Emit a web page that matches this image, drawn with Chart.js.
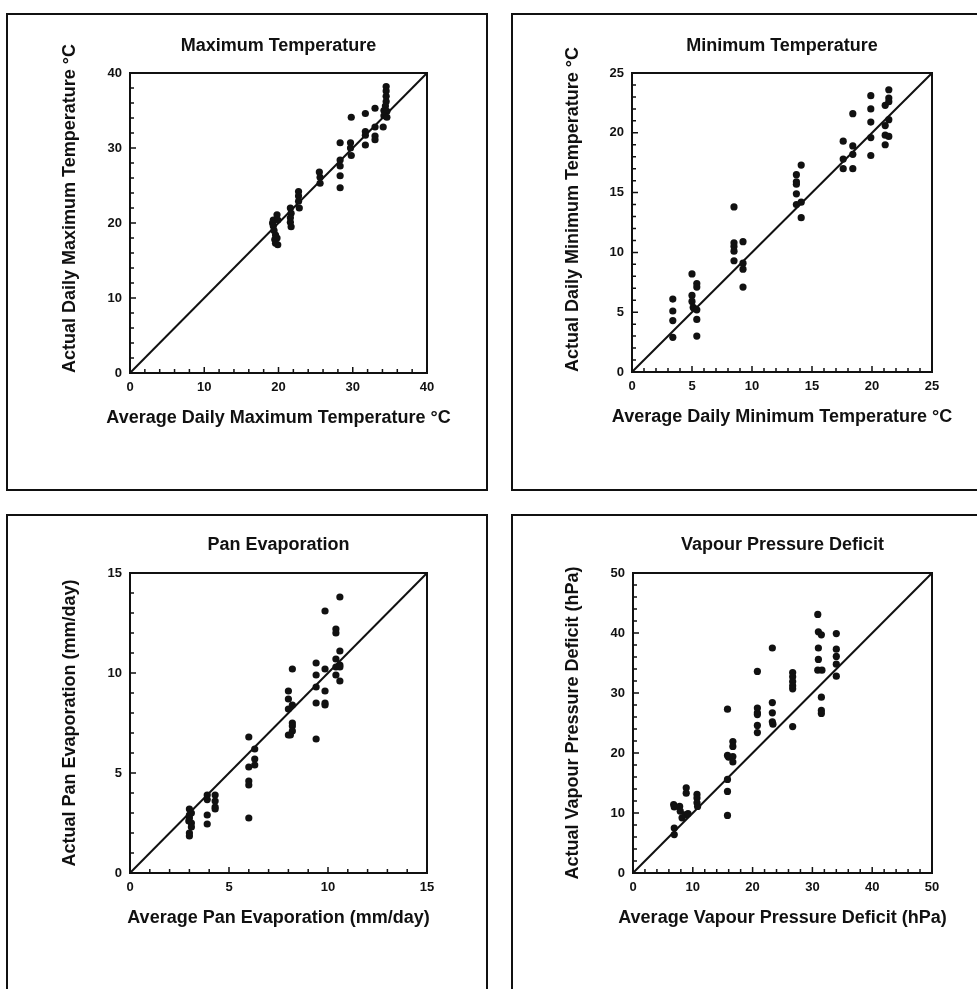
<!DOCTYPE html>
<html>
<head>
<meta charset="utf-8">
<script src="https://cdn.jsdelivr.net/npm/chart.js@4"></script>
<style>
  html, body { margin: 0; padding: 0; background: #fff; overflow: hidden; }
  .panel { position: absolute; border: 2px solid #111; box-sizing: border-box; background: #fff; }
  canvas { display: block; }
</style>
</head>
<body>
<div class="panel" style="left:6px;top:13px;width:482px;height:478px"><canvas id="c1" width="478" height="474"></canvas></div>
<div class="panel" style="left:511px;top:13px;width:470px;height:478px"><canvas id="c2" width="464" height="474"></canvas></div>
<div class="panel" style="left:6px;top:514px;width:482px;height:480px"><canvas id="c3" width="478" height="473"></canvas></div>
<div class="panel" style="left:511px;top:514px;width:470px;height:480px"><canvas id="c4" width="464" height="473"></canvas></div>
<script>
// Observé vs moyenne : 4 nuages de points avec la droite 1:1

// Température maximale (°C)
const maxTempAvg = [19.3, 19.2, 19.3, 19.4, 19.6, 19.5, 19.8, 19.9, 19.8, 19.9, 19.6,
  21.6, 21.7, 21.6, 21.6, 21.7, 22.7, 22.7, 22.7, 22.8, 25.5, 25.6, 25.6,
  28.3, 28.3, 28.3, 28.3, 28.3, 29.8, 29.7, 29.7, 29.8, 31.7, 31.7, 31.7, 31.7,
  33.0, 33.0, 33.0, 33.0, 34.5, 34.5, 34.5, 34.5, 34.4, 34.2, 34.6, 34.2, 34.6, 34.1];
const maxTempActual = [20.4, 20.0, 19.6, 19.0, 18.4, 17.8, 21.1, 20.4, 18.0, 17.1, 17.3,
  22.0, 21.3, 20.7, 20.1, 19.5, 24.2, 23.6, 22.9, 22.0, 26.8, 26.1, 25.3,
  30.7, 28.4, 27.6, 26.3, 24.7, 34.1, 30.7, 30.0, 29.0, 34.6, 32.2, 31.7, 30.4,
  35.3, 32.8, 31.6, 31.1, 38.2, 37.6, 36.9, 36.2, 35.6, 35.0, 34.9, 34.3, 34.1, 32.8];

// Température minimale (°C)
const minTempAvg = [3.4, 3.4, 3.4, 3.4, 5.0, 5.0, 5.0, 5.1, 5.2, 5.4, 5.4, 5.4, 5.4, 5.4,
  8.5, 8.5, 8.5, 8.5, 8.5, 9.25, 9.25, 9.25, 9.25,
  13.7, 13.7, 13.7, 13.7, 13.7, 14.1, 14.1, 14.1,
  17.6, 17.6, 17.6, 18.4, 18.4, 18.4, 18.4, 19.9, 19.9, 19.9, 19.9, 19.9,
  21.1, 21.1, 21.1, 21.1, 21.4, 21.4, 21.4, 21.4, 21.4];
const minTempActual = [6.1, 5.1, 4.3, 2.9, 8.2, 6.4, 5.9, 5.4, 5.3, 7.4, 7.1, 5.2, 4.4, 3.0,
  13.8, 10.8, 10.5, 10.1, 9.3, 10.9, 9.1, 8.6, 7.1,
  16.5, 15.9, 15.7, 14.9, 14.0, 17.3, 14.2, 12.9,
  19.3, 17.8, 17.0, 21.6, 18.9, 18.2, 17.0, 23.1, 22.0, 20.9, 19.6, 18.1,
  19.0, 20.6, 22.3, 19.8, 23.6, 22.9, 22.6, 21.1, 19.7];

// Évaporation bac (mm/jour)
const panAvg = [3.0, 3.0, 3.0, 3.1, 3.1, 3.0, 3.0, 2.97, 3.1,
  3.9, 3.9, 3.9, 3.9, 4.3, 4.3, 4.3, 4.3,
  6.0, 6.0, 6.0, 6.0, 6.0, 6.3, 6.3, 6.3,
  8.0, 8.0, 8.0, 8.0, 8.2, 8.2, 8.2, 8.2, 8.2, 8.1,
  9.4, 9.4, 9.4, 9.4, 9.4, 9.85, 9.85, 9.85, 9.85, 9.85,
  10.6, 10.4, 10.4, 10.6, 10.4, 10.6, 10.4, 10.4, 10.6, 10.6];
const panActual = [3.2, 2.9, 2.75, 2.5, 2.3, 2.0, 1.85, 2.6, 3.0,
  3.9, 3.67, 2.9, 2.45, 3.9, 3.6, 3.3, 3.2,
  6.8, 5.3, 4.6, 4.4, 2.75, 6.2, 5.7, 5.4,
  9.1, 8.7, 8.2, 6.9, 10.2, 8.4, 7.5, 7.35, 7.1, 6.9,
  10.5, 9.9, 9.3, 8.5, 6.7, 13.1, 10.2, 9.1, 8.5, 8.4,
  13.8, 12.2, 12.0, 11.1, 10.7, 10.4, 10.3, 9.9, 9.6, 10.3];

// Déficit de pression de vapeur (hPa)
const vpdAvg = [6.8, 6.9, 6.9, 6.9, 7.8, 7.9, 8.2, 8.7, 8.9, 8.9, 9.2, 10.7, 10.7, 10.7, 10.8,
  15.8, 15.8, 16.0, 15.8, 15.8, 15.8, 16.7, 16.7, 16.7, 16.7,
  20.8, 20.8, 20.8, 20.8, 20.8, 20.8, 23.3, 23.3, 23.3, 23.3, 23.4,
  26.7, 26.7, 26.7, 26.7, 26.7, 26.7,
  30.9, 31.0, 31.5, 31.0, 31.0, 30.9, 31.6, 31.5, 31.5, 31.5,
  34.0, 34.0, 34.0, 34.0, 34.0];
const vpdActual = [11.4, 11.0, 7.5, 6.4, 11.1, 10.3, 9.2, 9.7, 14.2, 13.3, 9.9, 13.1, 12.5, 11.7, 11.1,
  27.3, 19.6, 19.3, 15.6, 13.6, 9.6, 21.9, 21.1, 19.4, 18.5,
  33.6, 27.5, 26.7, 26.4, 24.6, 23.4, 37.5, 28.4, 26.7, 25.2, 24.8,
  33.4, 32.7, 31.9, 31.2, 30.7, 24.4,
  43.1, 40.2, 39.7, 37.5, 35.6, 33.8, 33.8, 29.3, 27.1, 26.6,
  39.9, 37.3, 36.1, 34.8, 32.8];

// bornes des axes et pas des graduations
const axisMax = [40, 25, 15, 50];
const majorStep = [10, 5, 5, 10];
const minorStep = [2, 1, 1, 2];

const INK = "#111";
const FAMILY = "'Liberation Sans', Arial, sans-serif";
const TICK_FONT = { family: FAMILY, size: 13, weight: "bold" };
const LABEL_FONT = { family: FAMILY, size: 18, weight: "bold" };

// cadre du graphique, graduations intérieures et titre de l'axe X
// (le titre natif de Chart.js est comprimé à la largeur de l'axe)
const frame = {
  id: "frame",
  afterDatasetsDraw(chart, args, opts) {
    const { ctx, chartArea: a, scales } = chart;
    const { x, y } = scales;
    const isMajor = (v) => Math.abs(v / opts.major - Math.round(v / opts.major)) < 1e-6;
    ctx.save();
    ctx.strokeStyle = INK;
    ctx.lineWidth = 2;
    ctx.strokeRect(a.left, a.top, a.right - a.left, a.bottom - a.top);
    ctx.lineWidth = 1.5;
    ctx.beginPath();
    for (let v = x.min; v <= x.max + 1e-9; v += opts.minor) {
      const p = x.getPixelForValue(v);
      ctx.moveTo(p, a.bottom);
      ctx.lineTo(p, a.bottom - (isMajor(v) ? 6 : 4));
    }
    for (let v = y.min; v <= y.max + 1e-9; v += opts.minor) {
      const p = y.getPixelForValue(v);
      ctx.moveTo(a.left, p);
      ctx.lineTo(a.left + (isMajor(v) ? 6 : 4), p);
    }
    ctx.stroke();

    ctx.fillStyle = INK;
    ctx.font = `bold ${LABEL_FONT.size}px ${FAMILY}`;
    ctx.textAlign = "center";
    ctx.textBaseline = "middle";
    ctx.fillText(opts.xTitle, (a.left + a.right) / 2, a.bottom + 45);
    ctx.restore();
  },
};

function panel(id, i, o) {
  const max = axisMax[i];
  new Chart(document.getElementById(id), {
    type: "scatter",
    data: {
      datasets: [
        {
          data: o.xs.map((v, k) => ({ x: v, y: o.ys[k] })),
          pointRadius: 3.6,
          pointBackgroundColor: INK,
          pointBorderWidth: 0,
        },
        {
          data: [{ x: 0, y: 0 }, { x: max, y: max }],
          showLine: true,
          borderColor: INK,
          borderWidth: 2,
          pointRadius: 0,
        },
      ],
    },
    options: {
      responsive: false,
      animation: false,
      events: [],
      layout: { padding: { left: 0, top: 0, right: o.padRight, bottom: o.padBottom } },
      plugins: {
        legend: { display: false },
        tooltip: { enabled: false },
        title: {
          display: true,
          text: o.title,
          fullSize: false,
          color: INK,
          font: LABEL_FONT,
          padding: { top: o.titleTop, bottom: o.titleBottom },
        },
        frame: { major: majorStep[i], minor: minorStep[i], xTitle: o.xTitle },
      },
      scales: {
        x: {
          type: "linear",
          min: 0,
          max,
          afterFit: (s) => { s.height = 60; },
          grid: { display: false, drawTicks: false },
          border: { display: false },
          ticks: { stepSize: majorStep[i], padding: 7, color: INK, font: TICK_FONT, maxRotation: 0 },
        },
        y: {
          type: "linear",
          min: 0,
          max,
          afterFit: (s) => { s.width = o.yWidth; },
          grid: { display: false, drawTicks: false },
          border: { display: false },
          ticks: { stepSize: majorStep[i], padding: 8, color: INK, font: TICK_FONT },
          title: {
            display: true,
            text: o.yTitle,
            align: o.yAlign,
            color: INK,
            font: LABEL_FONT,
            padding: { top: o.yTitlePad, bottom: 0 },
          },
        },
      },
    },
    plugins: [frame],
  });
}

panel("c1", 0, {
  xs: maxTempAvg, ys: maxTempActual,
  title: "Maximum Temperature",
  xTitle: "Average Daily Maximum Temperature °C",
  yTitle: "Actual Daily Maximum Temperature °C",
  yAlign: "start", yWidth: 122, yTitlePad: 51,
  padRight: 59, padBottom: 56, titleTop: 20, titleBottom: 16.4,
});
panel("c2", 1, {
  xs: minTempAvg, ys: minTempActual,
  title: "Minimum Temperature",
  xTitle: "Average Daily Minimum Temperature °C",
  yTitle: "Actual Daily Minimum Temperature °C",
  yAlign: "start", yWidth: 119, yTitlePad: 49,
  padRight: 45, padBottom: 57, titleTop: 20, titleBottom: 16.4,
});
panel("c3", 2, {
  xs: panAvg, ys: panActual,
  title: "Pan Evaporation",
  xTitle: "Average Pan Evaporation (mm/day)",
  yTitle: "Actual Pan Evaporation (mm/day)",
  yAlign: "center", yWidth: 122, yTitlePad: 51,
  padRight: 59, padBottom: 56, titleTop: 18, titleBottom: 17.4,
});
panel("c4", 3, {
  xs: vpdAvg, ys: vpdActual,
  title: "Vapour Pressure Deficit",
  xTitle: "Average Vapour Pressure Deficit (hPa)",
  yTitle: "Actual Vapour Pressure Deficit (hPa)",
  yAlign: "center", yWidth: 120, yTitlePad: 49,
  padRight: 45, padBottom: 56, titleTop: 18, titleBottom: 17.4,
});
</script>
</body>
</html>
